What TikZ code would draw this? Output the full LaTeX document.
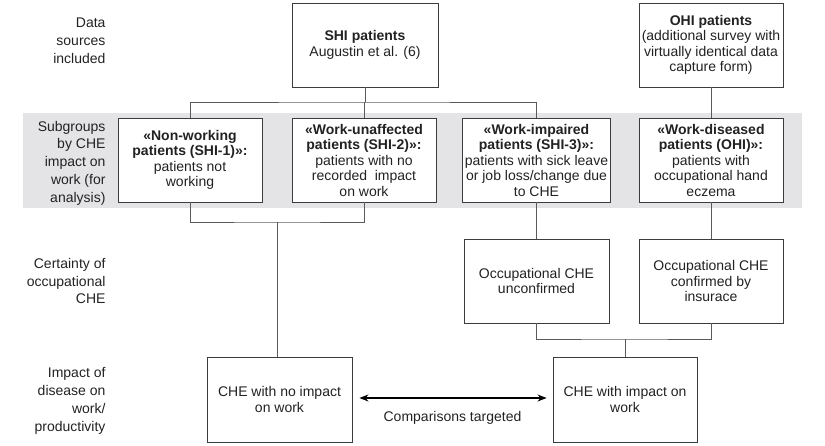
\documentclass[tikz,border=0pt]{standalone}
\usepackage{fontspec}
\setmainfont{Liberation Sans}
\usetikzlibrary{arrows.meta}
\definecolor{band}{HTML}{E4E4E6}
\definecolor{edge}{HTML}{3C3C3C}
\definecolor{wire}{HTML}{5A5A5A}
\definecolor{ink}{HTML}{222222}
\begin{document}
\begin{tikzpicture}[x=1pt,y=-1pt,
  box/.style={draw=edge,line width=0.9pt,fill=white,minimum width=144pt,minimum height=84pt,
    inner sep=2pt,align=center,text=ink,font=\fontsize{14}{15.5}\selectfont},
  side/.style={anchor=east,align=right,text=ink,font=\fontsize{14}{17.8}\selectfont},
  wire/.style={draw=wire,line width=0.9pt}]
\useasboundingbox (0,0) rectangle (825,445);
\fill[band] (23,113) rectangle (802,208);
% side labels
\node[side] (l1) at (109,41) {Data\\sources\\included};
\node[side] (l2) at (109,163) {Subgroups\\by CHE\\impact on\\work (for\\analysis)};
\node[side] (l3) at (109,281) {Certainty of\\occupational\\CHE};
\node[side] (l4) at (109,401) {Impact of\\disease on\\work/\\productivity};
% boxes
\node[box,minimum width=146pt] (shi) at (365,45) {\textbf{SHI patients}\\Augustin et al. (6)};
\node[box] (ohi) at (711,45) {\textbf{OHI patients}\\(additional survey with\\virtually identical data\\capture form)};
\node[box] (b1) at (190,160) {\textbf{«Non-working}\\\textbf{patients (SHI-1)»:}\\patients not\\working};
\node[box] (b2) at (364,160) {\textbf{«Work-unaffected}\\\textbf{patients (SHI-2)»:}\\patients with no\\recorded\ \ impact\\on work};
\node[box] (b3) at (536.5,160) {\textbf{«Work-impaired}\\\textbf{patients (SHI-3)»:}\\patients with sick leave\\or job loss/change due\\to CHE};
\node[box] (b4) at (711,160) {\textbf{«Work-diseased}\\\textbf{patients (OHI)»:}\\patients with\\occupational hand\\eczema};
\node[box,minimum width=145pt] (unc) at (536.5,281) {Occupational CHE\\unconfirmed};
\node[box] (conf) at (711,281) {Occupational CHE\\confirmed by\\insurace};
\node[box,minimum width=145pt,minimum height=85pt] (noimp) at (279.5,399.5) {CHE with no impact\\on work};
\node[box,minimum width=144pt,minimum height=85pt] (imp) at (625,399.5) {CHE with impact on\\work};
% junctions
\coordinate (j1) at (365,102);
\coordinate (j2) at (277,222);
\coordinate (j3) at (625,339);
\draw[wire] (shi.south) -- (j1);
\draw[wire] (b1.north) |- (j1) -| (b3.north);
\draw[wire] (b2.north) -- (b2.north |- j1);
\draw[wire] (ohi.south) -- (b4.north);
\draw[wire] (b1.south) |- (j2) -| (b2.south);
\draw[wire] (j2) -- (j2 |- noimp.north);
\draw[wire] (b3.south) -- (unc.north);
\draw[wire] (b4.south) -- (conf.north);
\draw[wire] (unc.south) |- (j3) -| (conf.south);
\draw[wire] (j3) -- (imp.north);
% comparison arrow
\draw[draw=black,line width=1.1pt,{Stealth[length=9pt,width=7pt]}-{Stealth[length=9pt,width=7pt]},shorten <=7pt,shorten >=6pt]
  ([yshift=1.5pt]noimp.east) -- ([yshift=1.5pt]imp.west) node[midway,below=9pt,text=ink,font=\fontsize{14}{15.5}\selectfont] (cmp) {Comparisons targeted};
\end{tikzpicture}
\end{document}
